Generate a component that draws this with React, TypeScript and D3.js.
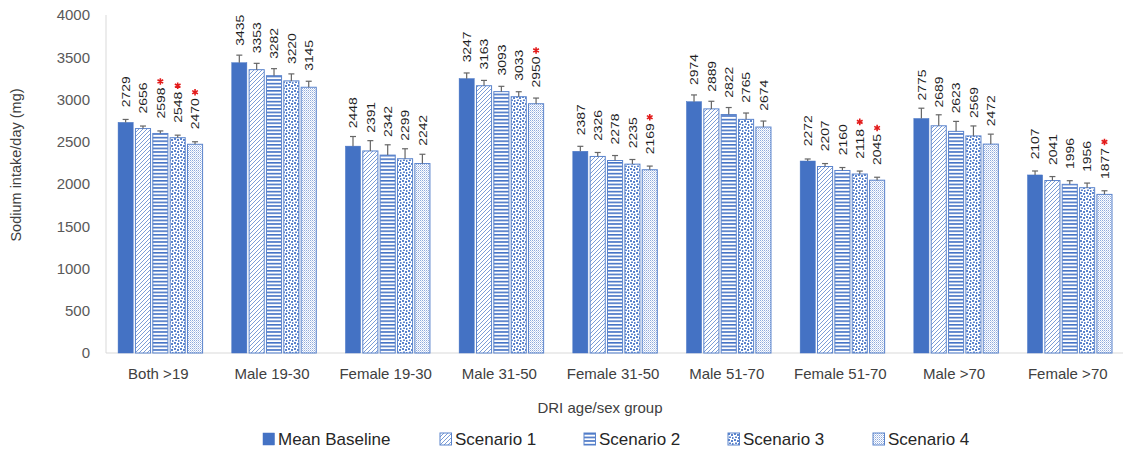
import React from 'react';
import * as d3 from 'd3';

const categories = ['Both >19', 'Male 19-30', 'Female 19-30', 'Male 31-50', 'Female 31-50', 'Male 51-70', 'Female 51-70', 'Male >70', 'Female >70'];
const seriesNames = ['Mean Baseline', 'Scenario 1', 'Scenario 2', 'Scenario 3', 'Scenario 4'];

const meanBaseline = [2729, 3435, 2448, 3247, 2387, 2974, 2272, 2775, 2107];
const scenario1 = [2656, 3353, 2391, 3163, 2326, 2889, 2207, 2689, 2041];
const scenario2 = [2598, 3282, 2342, 3093, 2278, 2822, 2160, 2623, 1996];
const scenario3 = [2548, 3220, 2299, 3033, 2235, 2765, 2118, 2569, 1956];
const scenario4 = [2470, 3145, 2242, 2950, 2169, 2674, 2045, 2472, 1877];

// upper error bars
const errMean = [35, 90, 114, 67, 59, 80, 24, 122, 47];
const errS1 = [30, 75, 122, 63, 47, 90, 35, 130, 47];
const errS2 = [30, 83, 122, 63, 59, 83, 35, 118, 43];
const errS3 = [30, 83, 118, 59, 55, 75, 35, 118, 55];
const errS4 = [30, 71, 110, 67, 43, 71, 35, 118, 43];

// red asterisk = significant difference
const sigMean = [0, 0, 0, 0, 0, 0, 0, 0, 0];
const sigS1 = [0, 0, 0, 0, 0, 0, 0, 0, 0];
const sigS2 = [1, 0, 0, 0, 0, 0, 0, 0, 0];
const sigS3 = [1, 0, 0, 0, 0, 0, 1, 0, 0];
const sigS4 = [1, 0, 0, 1, 1, 0, 1, 0, 1];

const yTicks = [0, 500, 1000, 1500, 2000, 2500, 3000, 3500, 4000];

const BLUE = '#4472C4';
const LIGHT = '#5b84cc';
const fills = ['url(#pSolid)', 'url(#pDiag)', 'url(#pHoriz)', 'url(#pConfetti)', 'url(#pDots)'];

const series = [
  { name: seriesNames[0], values: meanBaseline, err: errMean, sig: sigMean },
  { name: seriesNames[1], values: scenario1, err: errS1, sig: sigS1 },
  { name: seriesNames[2], values: scenario2, err: errS2, sig: sigS2 },
  { name: seriesNames[3], values: scenario3, err: errS3, sig: sigS3 },
  { name: seriesNames[4], values: scenario4, err: errS4, sig: sigS4 },
];

const FONT = "'Liberation Sans', Arial, sans-serif";

export default function App() {
  const width = 1123;
  const height = 453;
  const y = d3.scaleLinear().domain([0, 4000]).range([353, 15]);
  const x0 = d3.scaleBand().domain(categories).range([103.5, 1126.6]);
  const groupW = 84.5;
  const x1 = d3.scaleBand().domain(seriesNames).range([0, groupW]).paddingInner(0.13);
  const off = (x0.bandwidth() - groupW) / 2;
  const asterisk = d3.symbol().type(d3.symbolAsterisk).size(30)() as string;
  const legendX = [263, 440, 584, 728, 873];

  return (
    <svg width={width} height={height} style={{ position: 'absolute', left: 0, top: 0, background: '#fff' }} fontFamily={FONT}>
      <defs>
        <pattern id="pSolid" patternUnits="userSpaceOnUse" width={4} height={4}>
          <rect width={4} height={4} fill={BLUE} />
        </pattern>
        <pattern id="pDiag" patternUnits="userSpaceOnUse" width={4} height={4}>
          <rect width={4} height={4} fill="#fff" />
          <path d="M-1,1 L1,-1 M0,4 L4,0 M3,5 L5,3" stroke={LIGHT} strokeWidth={0.8} />
        </pattern>
        <pattern id="pHoriz" patternUnits="userSpaceOnUse" width={4} height={3.6}>
          <rect width={4} height={3.6} fill="#fff" />
          <rect width={4} height={1.6} fill={BLUE} />
        </pattern>
        <pattern id="pConfetti" patternUnits="userSpaceOnUse" width={6} height={6}>
          <rect width={6} height={6} fill="#fff" />
          <rect x={0} y={0} width={2} height={2} fill={LIGHT} />
          <rect x={3} y={1} width={2} height={2} fill={LIGHT} />
          <rect x={1} y={3.5} width={2} height={1.5} fill={LIGHT} />
          <rect x={4} y={4} width={1.5} height={2} fill={LIGHT} />
        </pattern>
        <pattern id="pDots" patternUnits="userSpaceOnUse" width={2} height={2}>
          <rect width={2} height={2} fill="#fff" />
          <rect x={0} y={0} width={1} height={1} fill="#8faadc" />
          <rect x={1} y={1} width={1} height={1} fill="#c5d3ee" />
        </pattern>
      </defs>

      {/* axes lines */}
      <line x1={106} x2={106} y1={15} y2={353} stroke="#d9d9d9" />
      <line x1={106} x2={1123} y1={353} y2={353} stroke="#d9d9d9" />

      {/* y tick labels */}
      {yTicks.map((t) => (
        <text key={t} x={90} y={y(t)} dy="0.35em" textAnchor="end" fontSize={15} fill="#595959">{t}</text>
      ))}
      <text transform="translate(21,165) rotate(-90)" textAnchor="middle" fontSize={14.5} fill="#404040">Sodium intake/day (mg)</text>

      {/* bars */}
      {series.map((s, si) => (
        <g key={s.name}>
          {categories.map((c, ci) => {
            const bx = (x0(c) as number) + off + (x1(s.name) as number);
            const bw = x1.bandwidth();
            const v = s.values[ci];
            const top = y(v);
            const cx = bx + bw / 2;
            const errTop = y(v + s.err[ci]);
            const lblBottom = top - 14 - (top - errTop) * 0.4;
            const lblLen = 31;
            return (
              <g key={c}>
                <rect x={bx} y={top} width={bw} height={y(0) - top} fill={fills[si]} stroke={si === 0 ? BLUE : LIGHT} strokeWidth={si === 0 ? 0.5 : 1} />
                <line x1={cx} x2={cx} y1={top} y2={errTop} stroke="#666" strokeWidth={1.2} />
                <line x1={cx - 3} x2={cx + 3} y1={errTop} y2={errTop} stroke="#666" strokeWidth={1.2} />
                <text transform={`translate(${cx},${lblBottom}) rotate(-90) scale(1.2,1)`} dy="0.36em" fontSize={11.6} fill="#1f1f1f">{v}</text>
                {s.sig[ci] ? (
                  <path d={asterisk} transform={`translate(${cx},${lblBottom - lblLen - 6})`} stroke="#e31b1b" strokeWidth={1.6} fill="none" />
                ) : null}
              </g>
            );
          })}
        </g>
      ))}

      {/* category labels */}
      {categories.map((c) => (
        <text key={c} x={(x0(c) as number) + x0.bandwidth() / 2 - 2} y={379} textAnchor="middle" fontSize={15} fill="#404040">{c}</text>
      ))}
      <text x={600} y={413} textAnchor="middle" fontSize={15} fill="#404040">DRI age/sex group</text>

      {/* legend */}
      {series.map((s, si) => (
        <g key={s.name} transform={`translate(${legendX[si]},433)`}>
          <rect x={0} y={0} width={11.5} height={12} fill={fills[si]} stroke={si === 0 ? BLUE : LIGHT} strokeWidth={si === 0 ? 0.5 : 1} />
          <text x={15} y={12.3} fontSize={17} fill="#262626">{s.name}</text>
        </g>
      ))}
    </svg>
  );
}
